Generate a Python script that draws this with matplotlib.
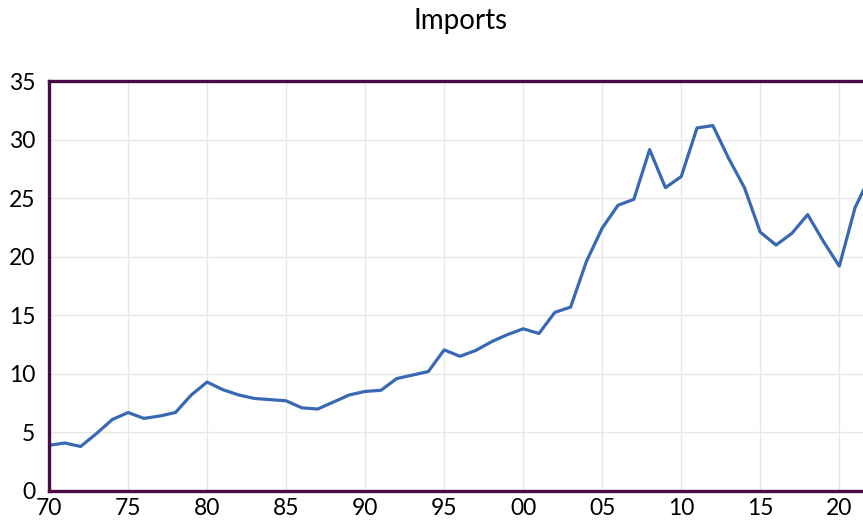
import numpy as np
import matplotlib
matplotlib.use('Agg')
import matplotlib.pyplot as plt

# Imports
years = [1970, 1971, 1972, 1973, 1974, 1975, 1976, 1977, 1978, 1979,
	1980, 1981, 1982, 1983, 1984, 1985, 1986, 1987, 1988, 1989,
	1990, 1991, 1992, 1993, 1994, 1995, 1996, 1997, 1998, 1999,
	2000, 2001, 2002, 2003, 2004, 2005, 2006, 2007, 2008, 2009,
	2010, 2011, 2012, 2013, 2014, 2015, 2016, 2017, 2018, 2019,
	2020, 2021, 2022]
imports = [3.9, 4.1, 3.8, 4.9, 6.1, 6.7, 6.2, 6.4, 6.7, 8.2,
	9.3, 8.65, 8.2, 7.9, 7.8, 7.7, 7.1, 7.0, 7.6, 8.2,
	8.5, 8.6, 9.6, 9.9, 10.2, 12.05, 11.5, 12.0, 12.75, 13.35,
	13.85, 13.45, 15.25, 15.7, 19.6, 22.45, 24.4, 24.9, 29.15, 25.9,
	26.85, 31.0, 31.2, 28.4, 25.9, 22.1, 21.0, 22.0, 23.6, 21.3,
	19.2, 24.2, 27.0]

x_ticks = [1970, 1975, 1980, 1985, 1990, 1995, 2000, 2005, 2010, 2015, 2020]
x_tick_labels = ['70', '75', '80', '85', '90', '95', '00', '05', '10', '15', '20']
y_ticks = [0, 5, 10, 15, 20, 25, 30, 35]

plt.rcParams['font.family'] = ['Lato', 'DejaVu Sans']

fig = plt.figure(figsize=(8.63, 5.30), dpi=100)
ax = fig.add_axes([0.0568, 0.0736, 0.9432, 0.7734])

ax.plot(years, imports, color='#3a69b4', linewidth=2.3, solid_joinstyle='round')

ax.set_xlim(1970, 2021.5)
ax.set_ylim(0, 35)
ax.set_xticks(x_ticks)
ax.set_xticklabels(x_tick_labels)
ax.set_yticks(y_ticks)
ax.grid(True, color='#e8e8e8', linewidth=1.0)
ax.set_axisbelow(True)
ax.tick_params(axis='both', length=0, labelsize=16.5, colors='black')
ax.tick_params(axis='x', pad=5)
ax.tick_params(axis='y', pad=10)

spine_col = '#4a0a46'
for side in ['left', 'bottom', 'top']:
	ax.spines[side].set_color(spine_col)
	ax.spines[side].set_linewidth(2.4)
ax.spines['right'].set_visible(False)

fig.text(0.534, 0.960, 'Imports', ha='center', va='center', fontsize=20)

fig.savefig('out.png', dpi=100)
